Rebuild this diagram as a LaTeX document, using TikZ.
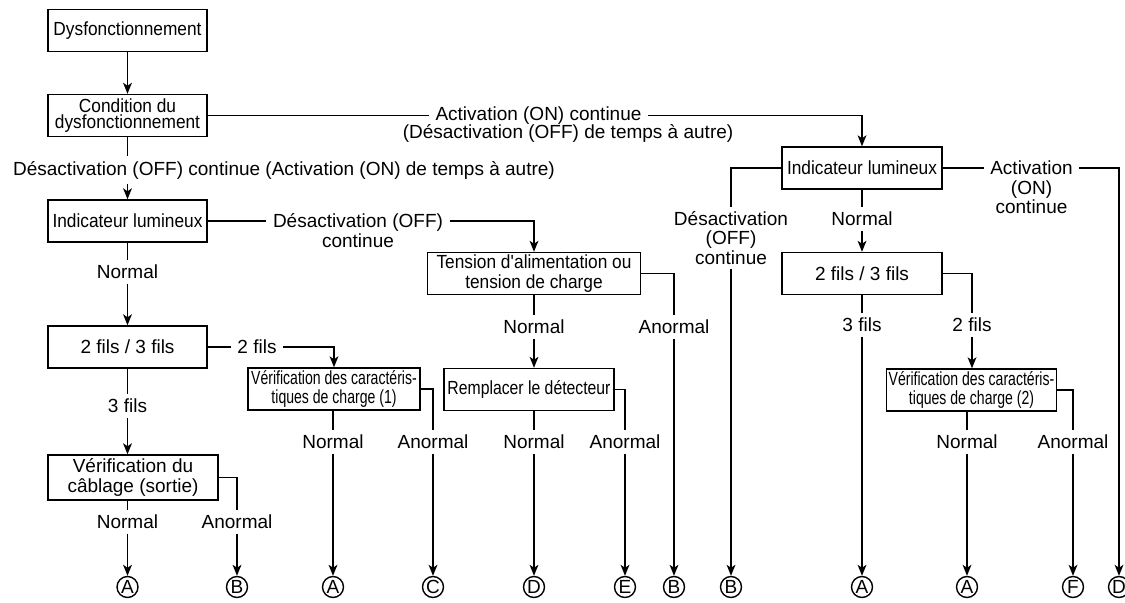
\documentclass[tikz,border=0pt]{standalone}
\usepackage{fontspec}
\setmainfont{Liberation Sans}
\newfontfamily\narrowA{Liberation Sans}[FakeStretch=0.91]
\newfontfamily\narrowB{Liberation Sans}[FakeStretch=0.83]
\newfontfamily\narrowC{Liberation Sans}[FakeStretch=0.74]
\usetikzlibrary{arrows.meta}
\begin{document}
\begin{tikzpicture}[x=0.5pt,y=-0.5pt,line width=0.7pt,
  >={Stealth[length=5.5pt,width=4.4pt,inset=1.5pt]},
  every node/.style={font=\fontsize{9.5}{9.8}\selectfont},
  box/.style={draw,minimum width=#1,minimum height=21pt,inner sep=1pt,align=center},
  lab/.style={inner xsep=3pt,inner ysep=2pt,align=center},
  endpt/.style={draw,circle,inner sep=0pt,minimum size=10.5pt,font=\fontsize{9.5}{10}\selectfont}]
  \useasboundingbox (0,0) rectangle (1125,603);
  \node[box=79.5pt] (dys) at (127.5,30.5) {\narrowA Dysfonctionnement};
  \node[box=79.5pt,font=\fontsize{9.5}{8.2}\selectfont] (cond) at (127.5,115.5) {\narrowA Condition du\\\narrowA dysfonctionnement};
  \node[box=79.5pt] (ind1) at (127.5,221) {\narrowA Indicateur lumineux};
  \node[box=79.5pt] (fils1) at (127.5,347) {2 fils / 3 fils};
  \node[box=85pt,minimum height=22.5pt] (cab) at (133,477.5) {V\'erification du\\c\^ablage (sortie)};
  \node[box=86pt] (ver1) at (334,389) {\narrowC V\'erification des caract\'eris-\\\narrowC tiques de charge (1)};
  \node[box=106.5pt] (tens) at (534,273.5) {\narrowA Tension d\textquotesingle alimentation ou\\\narrowA tension de charge};
  \node[box=85pt] (remp) at (529,389.5) {\narrowB Remplacer le d\'etecteur};
  \node[box=80pt] (ind2) at (862,168) {\narrowA Indicateur lumineux};
  \node[box=80pt] (fils2) at (862,273.5) {2 fils / 3 fils};
  \node[box=84.5pt] (ver2) at (971.5,390) {\narrowC V\'erification des caract\'eris-\\\narrowC tiques de charge (2)};

  \node[lab] (offall) at (284,170) {D\'esactivation (OFF) continue (Activation (ON) de temps \`a autre)};
  \node[lab] (acton) at (538.5,115.5) {Activation (ON) continue};
  \node[lab] (acton2) at (568,133) {(D\'esactivation (OFF) de temps \`a autre)};
  \node[lab] (off1) at (358,230.5) {D\'esactivation (OFF)\\continue};
  \node[lab] (nor1) at (127.5,272) {Normal};
  \node[lab] (fil2a) at (257,347) {2 fils};
  \node[lab] (fil3a) at (127.5,406) {3 fils};
  \node[lab] (nor2) at (127.5,522) {Normal};
  \node[lab] (ano1) at (237,522) {Anormal};
  \node[lab] (nor3) at (333,442) {Normal};
  \node[lab] (ano2) at (433,442) {Anormal};
  \node[lab] (nor4) at (534,327) {Normal};
  \node[lab] (ano3) at (674,327) {Anormal};
  \node[lab] (nor5) at (534,442) {Normal};
  \node[lab] (ano4) at (625,442) {Anormal};
  \node[lab] (off2) at (731,238) {D\'esactivation\\(OFF)\\continue};
  \node[lab] (on2) at (1031.5,187.5) {Activation\\(ON)\\continue};
  \node[lab] (nor6) at (862,219) {Normal};
  \node[lab] (fil3b) at (862,325) {3 fils};
  \node[lab] (fil2b) at (972,325) {2 fils};
  \node[lab] (nor7) at (967,442) {Normal};
  \node[lab] (ano5) at (1073,442) {Anormal};

  \foreach \x/\l/\n in {127.5/A/e1,237/B/e2,333/A/e3,433/C/e4,534/D/e5,625/E/e6,674/B/e7,731/B/e8,862/A/e9,967/A/e10,1073/F/e11,1119/D/e12}
    \node[endpt] (\n) at (\x,587) {\l};

  \draw[->] (dys) -- (cond);
  \draw (cond) -- (cond |- offall.north);
  \draw[->] (cond |- offall.south) -- (ind1);
  \draw (cond.east) -- (acton.west);
  \draw[->] (acton.east) -| (ind2);
  \draw (ind1.east) -- (ind1.east -| off1.west);
  \draw[->] (ind1.east -| off1.east) -| (tens);
  \draw (ind1) -- (nor1);
  \draw[->] (nor1) -- (fils1);
  \draw (fils1) -- (fil2a);
  \draw[->] (fil2a) -| (ver1);
  \draw (fils1) -- (fil3a);
  \draw[->] (fil3a) -- (fil3a |- cab.north);
  \draw (nor2 |- cab.south) -- (nor2);
  \draw[->] (nor2) -- (e1);
  \draw (cab.east) -| (ano1);
  \draw[->] (ano1) -- (e2);
  \draw (nor3 |- ver1.south) -- (nor3);
  \draw[->] (nor3) -- (e3);
  \draw (ver1.east) -| (ano2);
  \draw[->] (ano2) -- (e4);
  \draw (tens) -- (nor4);
  \draw[->] (nor4) -- (nor4 |- remp.north);
  \draw (tens.east) -| (ano3);
  \draw[->] (ano3) -- (e7);
  \draw (nor5 |- remp.south) -- (nor5);
  \draw[->] (nor5) -- (e5);
  \draw (remp.east) -| (ano4);
  \draw[->] (ano4) -- (e6);
  \draw (ind2.west) -| (off2);
  \draw[->] (off2) -- (e8);
  \draw (ind2) -- (nor6);
  \draw[->] (nor6) -- (fils2);
  \draw (ind2.east) -- (ind2.east -| on2.west);
  \draw[->] (ind2.east -| on2.east) -| (e12);
  \draw (fils2) -- (fil3b);
  \draw[->] (fil3b) -- (e9);
  \draw (fils2.east) -| (fil2b);
  \draw[->] (fil2b) -- (fil2b |- ver2.north);
  \draw (nor7 |- ver2.south) -- (nor7);
  \draw[->] (nor7) -- (e10);
  \draw (ver2.east) -| (ano5);
  \draw[->] (ano5) -- (e11);
\end{tikzpicture}
\end{document}
